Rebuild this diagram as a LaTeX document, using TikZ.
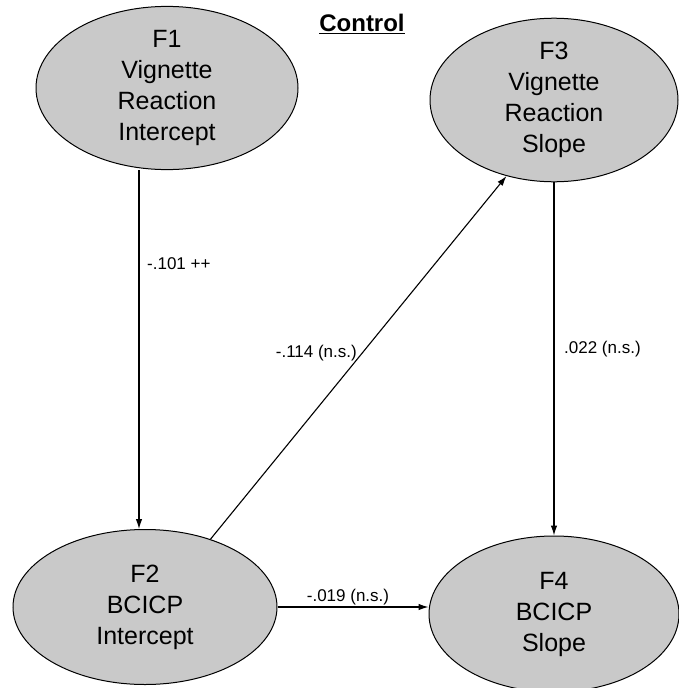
\documentclass[tikz,border=0pt]{standalone}
\usepackage{fontspec}
\setmainfont{Liberation Sans}
\usetikzlibrary{shapes.geometric,arrows.meta}
\begin{document}
\begin{tikzpicture}[x=1pt,y=-1pt,
  factor/.style={ellipse,draw=black,line width=1pt,fill=black!21,inner sep=0pt,
    align=center,font=\fontsize{25}{31}\selectfont},
  link/.style={line width=1.1pt,-{Latex[length=10pt,width=6.5pt]}},
  coef/.style={inner sep=0pt,font=\fontsize{17}{19}\selectfont}]
\useasboundingbox (0,0) rectangle (678,688);

% title
\node[font=\fontsize{24}{27}\selectfont\bfseries] (title) at (362,24) {\underline{Control}};

% latent factors
\node[factor,minimum width=262pt,minimum height=160pt] (F1) at (167,88)
  {F1\\Vignette\\Reaction\\Intercept};
\node[factor,minimum width=248pt,minimum height=150pt] (F3) at (554,100)
  {F3\\Vignette\\Reaction\\Slope};
\node[factor,minimum width=264pt,minimum height=155pt] (F2) at (145,607)
  {F2\\BCICP\\Intercept};
\node[factor,minimum width=250pt,minimum height=156pt] (F4) at (554,614)
  {F4\\BCICP\\Slope};

% structural paths
\draw[link] ([xshift=-28pt]F1.south) -- ([xshift=-6pt]F2.north);
\draw[link] (F3.south) -- (F4.north);
\draw[link] (F2.46) -- (F3.238);
\draw[link] (F2.east) -- (F2.east -| F4.west);

% path coefficients
\node[coef,anchor=west] (c12) at (147,264) {-.101 ++};
\node[coef,anchor=east] (c23) at (357,353) {-.114 (n.s.)};
\node[coef,anchor=west] (c34) at (564,349) {.022 (n.s.)};
\node[coef] (c24) at (348,597) {-.019 (n.s.)};
\end{tikzpicture}
\end{document}
